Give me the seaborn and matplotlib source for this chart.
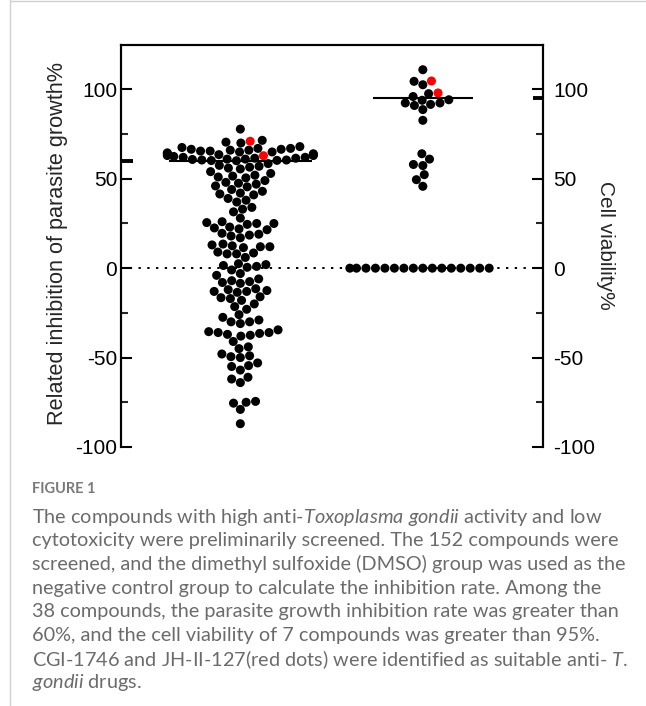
import matplotlib
matplotlib.use("Agg")
import matplotlib.pyplot as plt
import matplotlib.transforms as mtransforms
from matplotlib.lines import Line2D
import pandas as pd
import seaborn as sns

# inhibition rate (%) of the 152 screened compounds, red = CGI-1746 / JH-II-127
inhibition_black = [
    77.8,
    71.5, 70.5, 70.0,
    68.0, 67.5, 67.0, 67.0, 66.5, 66.5, 66.0, 66.0, 65.5, 65.5, 65.0, 65.0,
    64.5, 64.0, 64.0, 63.5, 63.5, 63.0, 63.0, 62.5, 62.0, 62.0, 61.5, 61.5,
    61.0, 61.0, 60.8, 60.5, 60.5, 60.3, 60.2, 60.1,
    58.5, 57.5, 57.0, 56.5, 56.0, 55.5,
    54.0, 53.0, 52.0, 51.5, 51.0, 50.5,
    49.0, 48.0, 47.5, 47.0, 46.0, 45.5,
    44.0, 43.0, 42.0, 41.5, 41.0,
    39.0, 38.0, 37.0,
    34.0, 33.0, 31.5,
    28.0, 26.0, 25.5, 25.0, 25.0,
    24.5, 23.0, 22.5, 22.0, 21.5,
    19.5, 19.0, 18.5, 18.0, 17.0,
    13.5, 13.0, 12.5, 12.0, 12.0, 11.5,
    9.0, 8.5, 8.0, 8.0, 6.0,
    2.5, 2.0, 1.5, 1.0, 0.5,
    -1.0, -3.0, -4.0,
    -6.0, -7.0, -7.5, -8.0, -8.5,
    -11.5, -12.0, -12.5, -13.0, -13.0, -13.5,
    -16.0, -16.5, -17.0, -18.0, -20.0,
    -21.5, -23.0,
    -26.0, -27.5, -29.0, -30.0, -30.0,
    -31.0, -34.5,
    -35.5, -36.0, -36.0, -36.5, -37.0, -37.5, -38.0,
    -41.0, -44.0, -45.0,
    -48.0, -49.0, -49.5, -50.0,
    -53.0, -54.5, -55.0,
    -57.0,
    -61.0, -62.0, -64.0,
    -74.5, -75.0, -75.5,
    -79.0,
    -87.0,
]
inhibition_red = [71.0, 62.9]

# cell viability (%) of the 38 compounds with inhibition > 60%
viability_black = [
    111.0, 104.5, 102.6, 97.6, 96.0, 94.2, 93.9, 92.4, 92.4, 91.6, 91.0, 88.7, 82.7,
    64.0, 61.0, 58.0, 57.4, 52.3, 49.5, 45.8,
    0, 0, 0, 0, 0, 0, 0, 0, 0, 0, 0, 0, 0, 0, 0, 0,
]
viability_red = [104.7, 98.0]

groups = ["inhibition", "viability"]
threshold_inhibition = 60
threshold_viability = 95
yticks = [-100, -50, 0, 50, 100]
minor_yticks = [-75, -25, 25, 75]

caption_title = "FIGURE 1"
caption_lines = [
    r"The compounds with high anti-$\it{Toxoplasma\ gondii}$ activity and low",
    "cytotoxicity were preliminarily screened. The 152 compounds were",
    "screened, and the dimethyl sulfoxide (DMSO) group was used as the",
    "negative control group to calculate the inhibition rate. Among the",
    "38 compounds, the parasite growth inhibition rate was greater than",
    "60%, and the cell viability of 7 compounds was greater than 95%.",
    r"CGI-1746 and JH-II-127(red dots) were identified as suitable anti- $\it{T.}$",
    r"$\it{gondii}$ drugs.",
]

df = pd.DataFrame({
    "group": [groups[0]] * (len(inhibition_black) + len(inhibition_red))
    + [groups[1]] * (len(viability_black) + len(viability_red)),
    "value": inhibition_black + inhibition_red + viability_black + viability_red,
    "hit": ["no"] * len(inhibition_black) + ["yes"] * len(inhibition_red)
    + ["no"] * len(viability_black) + ["yes"] * len(viability_red),
})

sns.set_theme(style="white")
plt.rcParams["font.family"] = ["Liberation Sans", "DejaVu Sans"]
plt.rcParams["axes.unicode_minus"] = False
plt.rcParams["mathtext.fontset"] = "custom"
plt.rcParams["mathtext.rm"] = "Lato"
plt.rcParams["mathtext.it"] = "Lato:italic"

W, H = 646, 706
fig = plt.figure(figsize=(W / 100, H / 100), dpi=100)
ax = fig.add_axes([0.187, 0.3669, 0.654, 0.5698])

ax.axhline(0, color="black", lw=1.4, linestyle=(0, (1.2, 3.3)), zorder=1)

sns.swarmplot(data=df, x="group", y="value", hue="hit", order=groups,
              hue_order=["no", "yes"], palette={"no": "black", "yes": "red"},
              size=6.5, linewidth=0, legend=False, ax=ax, zorder=3)

ax.hlines(threshold_inhibition, 0 - 0.39, 0 + 0.39, color="black", lw=1.5, zorder=4)
ax.hlines(threshold_viability, 1 - 0.275, 1 + 0.275, color="black", lw=1.5, zorder=4)

ax.set_xlim(-0.655, 1.66)
ax.set_ylim(-100, 125)
ax.set_xticks([])
ax.set_xlabel("")
ax.set_yticks(yticks)
ax.set_yticks(minor_yticks, minor=True)

ax2 = ax.twinx()
ax2.set_ylim(ax.get_ylim())
ax2.set_yticks(yticks)
ax2.set_yticks(minor_yticks, minor=True)

for a in (ax, ax2):
    a.spines["bottom"].set_visible(False)
    for s in ("left", "right", "top"):
        a.spines[s].set_linewidth(1.5)
        a.spines[s].set_color("black")
ax.tick_params(axis="y", which="major", direction="in", length=8, width=1.5,
               labelsize=15, pad=2.5, colors="black", left=True)
ax.tick_params(axis="y", which="minor", direction="in", length=5, width=1.5, left=True)
ax2.tick_params(axis="y", which="major", direction="in", length=8, width=1.5,
                labelsize=15, pad=7, colors="black", right=True)
ax2.tick_params(axis="y", which="minor", direction="in", length=5, width=1.5, right=True)

# threshold marks on both axes
tf = mtransforms.blended_transform_factory(ax.transAxes, ax.transData)
ax.plot([0, 0.028], [threshold_inhibition] * 2, color="black", lw=2.8,
        transform=tf, clip_on=False, solid_capstyle="butt", zorder=5)
ax.plot([1 - 0.024, 1], [threshold_viability] * 2, color="black", lw=2.8,
        transform=tf, clip_on=False, solid_capstyle="butt", zorder=5)

ax.set_ylabel("Related inhibition of parasite growth%", fontsize=15.6, va="center")
ax.yaxis.set_label_coords(-0.151, 0.505)
ax2.set_ylabel("Cell viability%", fontsize=15, rotation=270, va="center")
ax2.yaxis.set_label_coords(1.147, 0.5)

# page frame lines
fig.add_artist(Line2D([10 / W, 10 / W], [0, 1], color="#d0d0d0", lw=1))
fig.add_artist(Line2D([10 / W, 1], [1 - 1 / H, 1 - 1 / H], color="#d0d0d0", lw=1))

# caption
fig.text(32 / W, 1 - 489 / H, caption_title, fontsize=10.5, color="#7a7a7a",
         family="Lato", weight="bold", va="center")
for i, line in enumerate(caption_lines):
    fig.text(32 / W, 1 - (517 + 23.7 * i) / H, line, fontsize=14.3,
             color="#6b6b6b", family="Lato", va="center")

fig.savefig("out.png", dpi=100)
